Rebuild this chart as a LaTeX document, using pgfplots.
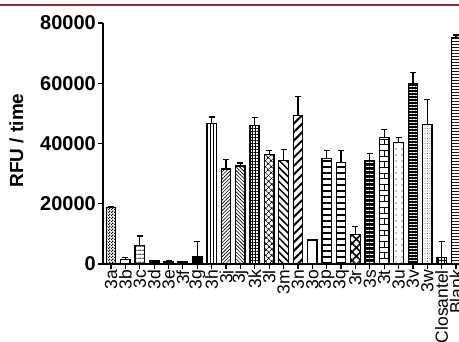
\documentclass[border=0pt]{standalone}
\usepackage{pgfplots}
\pgfplotsset{compat=1.18}
\usepackage{fontspec}
\setmainfont{Liberation Sans}
\usetikzlibrary{patterns,patterns.meta}
\definecolor{topred}{RGB}{152,34,62}
\pgfdeclarepatternformonly{smallcheck}{\pgfpointorigin}{\pgfqpoint{3pt}{3pt}}{\pgfqpoint{3pt}{3pt}}{%
  \pgfpathrectangle{\pgfpointorigin}{\pgfqpoint{1.5pt}{1.5pt}}%
  \pgfpathrectangle{\pgfqpoint{1.5pt}{1.5pt}}{\pgfqpoint{1.5pt}{1.5pt}}%
  \pgfusepath{fill}}
\pgfplotsset{
  mybar/.style={ybar, bar width=9.5pt, draw=black, line width=1.3pt,
    error bars/y dir=plus, error bars/y explicit,
    error bars/error bar style={line width=1.2pt,black},
    error bars/error mark options={rotate=90,mark size=3pt,line width=1.2pt,black}},
}
\begin{document}
\begin{tikzpicture}[x=1pt,y=1pt]
\draw[topred, line width=2.5pt] (-5,336) -- (470,336);
\node[rotate=90, font=\bfseries\fontsize{19}{19}\selectfont] at (16.5,200.5) {RFU / time};
\begin{axis}[
  at={(103pt,77pt)}, anchor=south west,
  scale only axis, width=361.7pt, height=241pt,
  xmin=-0.556, xmax=24.6, ymin=0, ymax=80000,
  axis x line*=bottom, axis y line*=left,
  axis line style={line width=1.3pt},
  tick style={line width=1.2pt, black},
  tick align=outside, major tick length=5pt,
  xtick={0,...,24},
  xticklabels={3a,3b,3c,3d,3e,3f,3g,3h,3i,3j,3k,3l,3m,3n,3o,3p,3q,3r,3s,3t,3u,3v,3w,Closantel,Blank},
  x tick label style={rotate=90, anchor=east, font=\fontsize{17.5}{17.5}\selectfont, inner sep=1pt},
  ytick={0,20000,40000,60000,80000},
  scaled y ticks=false,
  /pgf/number format/1000 sep={},
  /pgf/number format/assume math mode=true,
  y tick label style={font=\bfseries\fontsize{20}{20}\selectfont, inner sep=2pt},
  clip=false,
]
\addplot[mybar, fill=white, postaction={pattern=smallcheck}] coordinates {(0,18800) +- (0,300)};
\addplot[mybar, fill=white] coordinates {(1,1600) +- (0,500)};
\addplot[mybar, fill=white, postaction={pattern={Lines[angle=0,distance=4pt,line width=0.9pt]}}] coordinates {(2,6200) +- (0,3100)};
\addplot[mybar, fill=black] coordinates {(3,1000) +- (0,100)};
\addplot[mybar, fill=black] coordinates {(4,900) +- (0,100)};
\addplot[mybar, fill=black] coordinates {(5,800) +- (0,100)};
\addplot[mybar, fill=black] coordinates {(6,2400) +- (0,5100)};
\addplot[mybar, fill=white, postaction={pattern={Lines[angle=90,distance=3pt,line width=0.8pt]}}] coordinates {(7,46700) +- (0,2100)};
\addplot[mybar, fill=white, postaction={pattern={Lines[angle=45,distance=2.5pt,line width=0.6pt]}}] coordinates {(8,31500) +- (0,3300)};
\addplot[mybar, fill=white, postaction={pattern={Lines[angle=-45,distance=2.5pt,line width=0.6pt]}}] coordinates {(9,32500) +- (0,1000)};
\addplot[mybar, fill=white, postaction={pattern={Hatch[angle=0,distance=3pt,line width=0.6pt]}}] coordinates {(10,46000) +- (0,2500)};
\addplot[mybar, fill=white, postaction={pattern={Hatch[angle=45,distance=4pt,line width=0.8pt]}}] coordinates {(11,36300) +- (0,1400)};
\addplot[mybar, fill=white, postaction={pattern={Lines[angle=-45,distance=5pt,line width=1.5pt]}}] coordinates {(12,34400) +- (0,3700)};
\addplot[mybar, fill=white, postaction={pattern={Lines[angle=45,distance=6pt,line width=2pt]}}] coordinates {(13,49200) +- (0,6300)};
\addplot[mybar, fill=white] coordinates {(14,8000)};
\addplot[mybar, fill=white, postaction={pattern={Lines[angle=0,distance=6pt,line width=2.5pt]}}] coordinates {(15,35000) +- (0,2800)};
\addplot[mybar, fill=white, postaction={pattern={Lines[angle=0,distance=6pt,line width=1.5pt]}}] coordinates {(16,33800) +- (0,4000)};
\addplot[mybar, fill=white, postaction={pattern={Hatch[angle=45,distance=6pt,line width=1.5pt]}}] coordinates {(17,9900) +- (0,2500)};
\addplot[mybar, fill=black, postaction={pattern={Lines[angle=0,distance=4pt,line width=1pt]}, pattern color=white}] coordinates {(18,34300) +- (0,2500)};
\addplot[mybar, fill=white, postaction={pattern=bricks}] coordinates {(19,42100) +- (0,2500)};
\addplot[mybar, fill=white, postaction={pattern={Dots[distance=6pt,radius=0.7pt]}}] coordinates {(20,40300) +- (0,1800)};
\addplot[mybar, fill=black, postaction={pattern={Lines[angle=0,distance=3pt,line width=0.7pt]}, pattern color=white}] coordinates {(21,59900) +- (0,3700)};
\addplot[mybar, fill=white, postaction={pattern={Dots[distance=2.5pt,radius=0.45pt]}}] coordinates {(22,46300) +- (0,8300)};
\addplot[mybar, fill=white, postaction={pattern=grid}] coordinates {(23,2100) +- (0,5300)};
\addplot[mybar, fill=white, postaction={pattern={Lines[angle=0,distance=3pt,line width=0.7pt]}}] coordinates {(24,75300) +- (0,700)};
\end{axis}
\pgfresetboundingbox
\path[use as bounding box] (0,0) rectangle (459,341);
\end{tikzpicture}
\end{document}
